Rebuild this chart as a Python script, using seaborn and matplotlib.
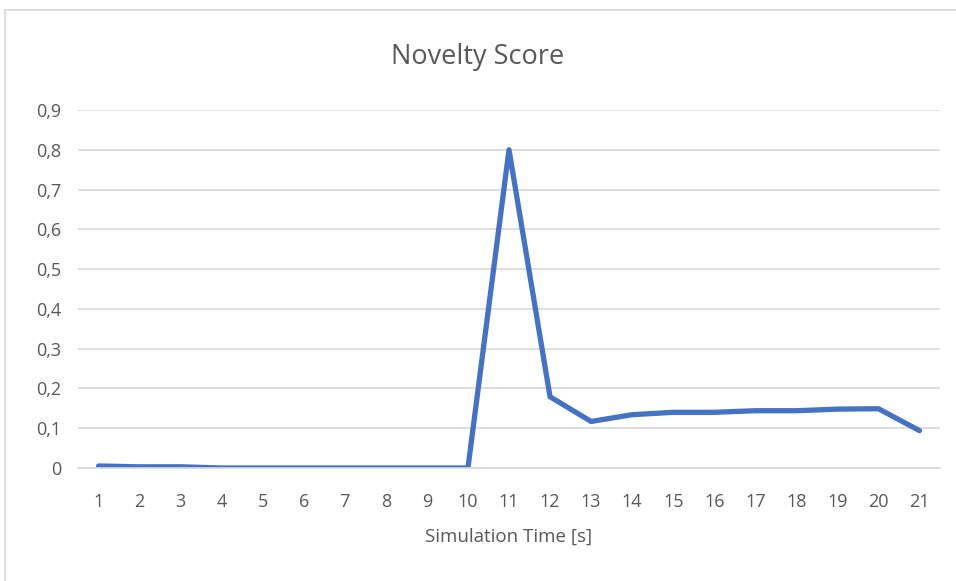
import numpy as np
import matplotlib
matplotlib.use("Agg")
import matplotlib.pyplot as plt
import seaborn as sns
from matplotlib.patches import Rectangle
from matplotlib.ticker import FuncFormatter, MultipleLocator

# data
sim_time = list(range(1, 22))
novelty = [0.005, 0.003, 0.003, 0.0, 0.0, 0.0, 0.0, 0.0, 0.0, 0.0,
           0.80, 0.179, 0.117, 0.134, 0.140, 0.140, 0.144, 0.144, 0.148, 0.149, 0.094]

sns.set_style("white")
plt.rcParams["font.family"] = ["Open Sans", "DejaVu Sans"]

TEXT = "#595959"
fig = plt.figure(figsize=(9.56, 5.81), dpi=100)
ax = fig.add_axes([78 / 956, 1 - 468 / 581, (940 - 78) / 956, (468 - 110) / 581])

# chart area border (Excel-style)
fig.patches.append(Rectangle((5 / 956, -0.01), 1.0, 1 - 10 / 581 + 0.01,
                             transform=fig.transFigure, fill=False,
                             edgecolor="#d9d9d9", linewidth=1.2))

sns.lineplot(ax=ax, x=sim_time, y=novelty, color="#4472C4", linewidth=3.8,
             errorbar=None, solid_joinstyle="round", solid_capstyle="round")

ax.set_xlim(0.5, 21.5)
ax.set_ylim(0, 0.9)
ax.yaxis.set_major_locator(MultipleLocator(0.1))
ax.yaxis.set_major_formatter(FuncFormatter(
    lambda v, _: "0" if abs(v) < 1e-9 else f"{v:.1f}".replace(".", ",")))
ax.set_xticks(sim_time)
ax.grid(axis="y", color="#d9d9d9", linewidth=1.2)
ax.set_axisbelow(True)
for side in ("top", "right", "left"):
    ax.spines[side].set_visible(False)
ax.spines["bottom"].set_color("#d9d9d9")
ax.spines["bottom"].set_linewidth(1.2)
ax.tick_params(axis="x", length=0, labelsize=13, colors=TEXT, pad=18)
ax.tick_params(axis="y", length=0, labelsize=13, colors=TEXT, pad=12)

ax.set_xlabel("Simulation Time [s]", fontsize=13.5, color=TEXT, labelpad=12)
fig.text(0.5, 1 - 57 / 581, "Novelty Score", ha="center", va="center",
         fontsize=19.5, color=TEXT)

fig.savefig("out.png", dpi=100)
